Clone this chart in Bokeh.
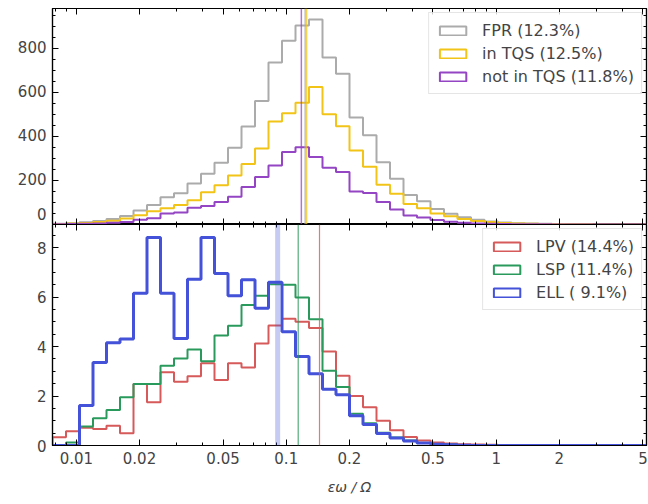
import numpy as np
from bokeh.plotting import figure
from bokeh.layouts import column
from bokeh.models import (Range1d, LogAxis, LinearAxis, FixedTicker, NumeralTickFormatter,
                          CustomJSTickFormatter, Span, Legend, LegendItem)
from bokeh.embed import file_html
from bokeh.resources import INLINE

# ---------------- data ----------------
X_MIN, X_MAX = 0.0077, 5.2
N_BINS = 44

fpr = [3, 6, 10, 16, 25, 38, 64, 88, 124, 142, 186, 230, 280, 348, 445, 560, 735, 834, 903, 930,
       758, 684, 486, 405, 282, 208, 134, 106, 70, 49, 33, 21, 14, 9, 6, 4, 3, 2, 1, 1, 0, 0, 0, 0]
in_tqs = [2, 4, 7, 11, 17, 27, 42, 60, 74, 88, 110, 146, 178, 222, 275, 345, 467, 505, 552, 624,
          500, 446, 336, 262, 180, 140, 93, 74, 50, 37, 25, 16, 11, 7, 5, 3, 2, 1, 1, 1, 0, 0, 0, 0]
not_in_tqs = [1, 2, 3, 5, 8, 11, 22, 28, 50, 54, 76, 84, 102, 126, 170, 215, 268, 329, 351, 306,
              258, 238, 150, 143, 102, 68, 41, 32, 20, 12, 8, 5, 3, 2, 1, 1, 1, 0, 0, 0, 0, 0, 0, 0]

lpv = [0.33, 0.58, 0.72, 0.67, 0.8, 0.5, 2.48, 1.75, 2.96, 2.58, 2.8, 3.32, 2.65, 3.32, 3.15, 4.12,
       4.85, 5.12, 5.0, 4.75, 3.8, 2.82, 2.0, 1.55, 1.0, 0.62, 0.34, 0.2, 0.12, 0.08, 0.05, 0.04,
       0.03, 0.02, 0.01, 0, 0, 0, 0, 0, 0, 0, 0, 0]
lsp = [0.0, 0.12, 0.77, 1.1, 1.43, 1.95, 2.48, 2.48, 3.22, 3.52, 3.88, 3.4, 4.44, 4.84, 5.68, 6.05,
       6.52, 6.5, 5.98, 5.1, 3.02, 2.36, 1.28, 0.9, 0.52, 0.32, 0.2, 0.1, 0.06, 0.04, 0.02, 0.01,
       0, 0, 0, 0, 0, 0, 0, 0, 0, 0, 0, 0]
ell = [0, 0, 1.62, 3.35, 4.15, 4.3, 6.15, 8.4, 6.15, 4.32, 6.72, 8.4, 6.95, 6.05, 6.7, 5.55,
       6.6, 4.6, 3.6, 2.9, 2.27, 2.05, 1.2, 0.85, 0.48, 0.3, 0.18, 0.1, 0.05, 0.03, 0.01, 0,
       0, 0, 0, 0, 0, 0, 0, 0, 0, 0, 0, 0]

top_labels = ["FPR (12.3%)", "in TQS (12.5%)", "not in TQS (11.8%)"]
top_medians = [0.123, 0.125, 0.118]
top_colors = ["#ababab", "#f2c418", "#9445c4"]

bottom_labels = ["LPV (14.4%)", "LSP (11.4%)", "ELL ( 9.1%)"]
bottom_medians = [0.144, 0.114, 0.091]
bottom_colors = ["#d65a5a", "#2a9a5c", "#4352d8"]

x_major = [0.01, 0.02, 0.05, 0.1, 0.2, 0.5, 1, 2, 5]
x_minor = [m * d for d in (0.001, 0.01, 0.1, 1.0) for m in range(1, 10)]
top_y_major = [0, 200, 400, 600, 800]
top_y_minor = list(range(0, 1000, 50))
bot_y_major = [0, 2, 4, 6, 8]
bot_y_minor = [i * 0.5 for i in range(0, 18)]

TOP_YMAX = 980
BOT_YMAX = 8.93

edges = np.logspace(np.log10(X_MIN), np.log10(X_MAX), N_BINS + 1)

FONT = "DejaVu Sans"
TXT = "#444444"


def style_axis(ax, labels):
    ax.axis_line_color = "black"
    ax.axis_line_width = 1.2
    ax.major_tick_line_color = "black"
    ax.minor_tick_line_color = "black"
    ax.major_tick_in = 6
    ax.major_tick_out = 0
    ax.minor_tick_in = 3
    ax.minor_tick_out = 0
    if labels:
        ax.major_label_text_font = FONT
        ax.major_label_text_font_size = "15px"
        ax.major_label_text_color = TXT
        ax.major_label_standoff = 6
    else:
        ax.formatter = CustomJSTickFormatter(code="return ''")
        ax.major_label_text_font_size = "0px"
        ax.major_label_standoff = 0


def make_panel(frame_h, ymax, ymaj, ymin, xlabels, border_top):
    p = figure(x_axis_type="log", x_range=Range1d(X_MIN, X_MAX), y_range=Range1d(0, ymax),
               frame_width=594, frame_height=frame_h, output_backend="svg",
               toolbar_location=None, min_border_left=52, min_border_right=2,
               min_border_top=border_top, min_border_bottom=0)
    p.grid.visible = False
    p.outline_line_color = "black"
    p.outline_line_width = 1.2
    p.background_fill_color = "white"
    p.border_fill_color = "white"

    below_ax = p.below[0]
    left_ax = p.left[0]
    below_ax.ticker = FixedTicker(ticks=x_major, minor_ticks=x_minor)
    left_ax.ticker = FixedTicker(ticks=ymaj, minor_ticks=ymin)
    style_axis(below_ax, xlabels)
    if xlabels:
        below_ax.formatter = NumeralTickFormatter(format="0.[00]")
    style_axis(left_ax, True)

    top_ax = LogAxis(ticker=FixedTicker(ticks=x_major, minor_ticks=x_minor))
    style_axis(top_ax, False)
    p.add_layout(top_ax, "above")
    right_ax = LinearAxis(ticker=FixedTicker(ticks=ymaj, minor_ticks=ymin))
    style_axis(right_ax, False)
    p.add_layout(right_ax, "right")
    return p, below_ax, left_ax


def add_hist(p, vals, color, width):
    xs = [edges[0]] + list(edges)
    ys = [0] + list(vals) + [0]
    p.step(x=xs, y=ys, mode="after", line_color=color, line_width=width)


def add_legend(p, labels, series, colors, widths):
    items = []
    for lab, vals, col, w in zip(labels, series, colors, widths):
        # hidden bar version of the histogram, used only to draw the legend box icon
        r = p.quad(left=edges[:-1], right=edges[1:], top=vals, bottom=0, fill_color=None,
                   line_color=col, line_width=w, visible=False)
        items.append(LegendItem(label=lab, renderers=[r]))
    lg = Legend(items=items, location="top_right")
    lg.label_text_font = FONT
    lg.label_text_font_size = "16px"
    lg.label_text_color = TXT
    lg.glyph_width = 33
    lg.glyph_height = 11
    lg.label_height = 20
    lg.label_standoff = 13
    lg.spacing = 3
    lg.padding = 7
    lg.margin = 4
    lg.border_line_color = "#cccccc"
    lg.border_line_width = 1
    lg.background_fill_alpha = 0.8
    p.add_layout(lg)


# ---------------- top panel ----------------
top, _, top_left = make_panel(216, TOP_YMAX, top_y_major, top_y_minor, False, 8)
# lift the "0" label a little so that it is not cut by the panel's lower edge
top_left.major_label_overrides = {0: "0\n\u00a0"}
top_left.major_label_text_line_height = 0.05
top_series = [fpr, in_tqs, not_in_tqs]
for vals, col in zip(top_series, top_colors):
    add_hist(top, vals, col, 2)
for loc, col in zip(top_medians, top_colors):
    top.add_layout(Span(location=loc, dimension="height", line_color=col,
                        line_width=1.5, line_alpha=0.75))
add_legend(top, top_labels, top_series, top_colors, [2, 2, 2])

# ---------------- bottom panel ----------------
bot, bot_x, _ = make_panel(221, BOT_YMAX, bot_y_major, bot_y_minor, True, 0)
bot_series = [lpv, lsp, ell]
bot_widths = [2, 2, 3]
for vals, col, w in zip(bot_series, bottom_colors, bot_widths):
    add_hist(bot, vals, col, w)
span_widths = [1.2, 1.2, 5]
span_alphas = [0.8, 0.8, 0.3]
for loc, col, w, a in zip(bottom_medians, bottom_colors, span_widths, span_alphas):
    bot.add_layout(Span(location=loc, dimension="height", line_color=col,
                        line_width=w, line_alpha=a))
add_legend(bot, bottom_labels, bot_series, bottom_colors, [2, 2, 2])

bot_x.axis_label = "εω / Ω"
bot_x.axis_label_text_font = FONT
bot_x.axis_label_text_font_style = "italic"
bot_x.axis_label_text_font_size = "14px"
bot_x.axis_label_text_color = TXT
bot_x.axis_label_standoff = 12

layout = column(top, bot, spacing=0)
open("out.html", "w").write(file_html(layout, INLINE))
